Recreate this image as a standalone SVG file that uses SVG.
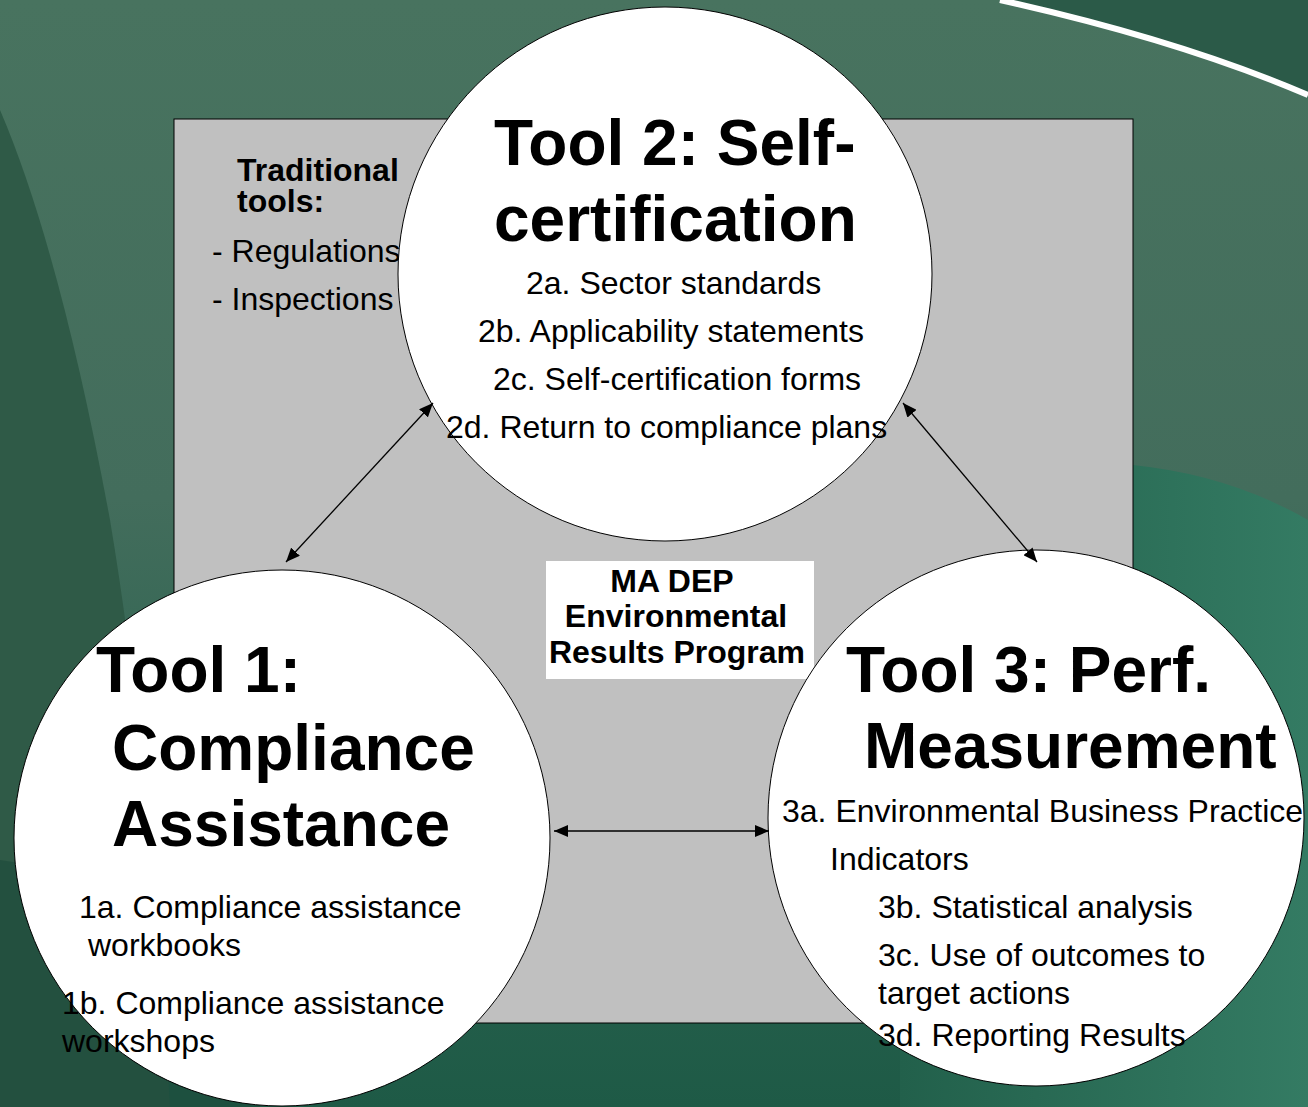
<svg xmlns="http://www.w3.org/2000/svg" width="1308" height="1107" viewBox="0 0 1308 1107">
<defs>
<linearGradient id="bg" x1="0" y1="0" x2="0" y2="1">
<stop offset="0" stop-color="#48735f"/>
<stop offset="0.45" stop-color="#436d5c"/>
<stop offset="0.75" stop-color="#2a6350"/>
<stop offset="1" stop-color="#1e5a46"/>
</linearGradient>
<linearGradient id="br" x1="900" y1="0" x2="1308" y2="0" gradientUnits="userSpaceOnUse">
<stop offset="0" stop-color="#22604b"/>
<stop offset="1" stop-color="#347b63"/>
</linearGradient>
<marker id="ah" viewBox="0 0 14 12" refX="14" refY="6" markerWidth="14" markerHeight="12" markerUnits="userSpaceOnUse" orient="auto-start-reverse">
<path d="M0,0 L14,6 L0,12 z" fill="#000"/>
</marker>
<style>
.circ{fill:#fff;stroke:#000;stroke-width:1}
.t{font-family:"Liberation Sans",Arial,sans-serif;fill:#000}
.big{font-size:64px;font-weight:bold}
.bd{font-size:32px;font-weight:bold}
.rg{font-size:32px}
.conn{stroke:#000;stroke-width:1.3;fill:none;marker-start:url(#ah);marker-end:url(#ah)}
</style>
</defs>
<g id="background">
<rect x="0" y="0" width="1308" height="1107" fill="url(#bg)"/>
<path d="M1133,465 Q1230,475 1308,520 L1308,1107 L900,1107 L900,1023 L1133,1023 Z" fill="url(#br)"/>
<path d="M0,110 Q60,250 110,520 Q150,760 170,1107 L0,1107 Z" fill="#2f5a47"/>
<path d="M0,860 L0,1107 L260,1107 L260,900 Z" fill="#1d4a3a" opacity="0.6"/>
<path d="M1000,0 Q1180,40 1308,95 L1308,0 Z" fill="#2b5a48"/>
<path d="M1000,0 Q1180,40 1308,95" stroke="#ffffff" stroke-width="6" fill="none"/>
</g>
<g id="frame">
<rect x="174" y="119" width="959" height="904" fill="#c0c0c0" stroke="#000" stroke-width="1"/>
</g>
<g id="traditional">
<text class="t bd" x="237" y="181">Traditional</text>
<text class="t bd" x="237" y="212">tools:</text>
<text class="t rg" x="212" y="262">- Regulations</text>
<text class="t rg" x="212" y="310">- Inspections</text>
</g>
<g id="madep">
<rect x="546" y="561" width="268" height="118" fill="#fff"/>
<text class="t bd" x="672" y="592" text-anchor="middle">MA DEP</text>
<text class="t bd" x="676" y="627" text-anchor="middle">Environmental</text>
<text class="t bd" x="677" y="663" text-anchor="middle">Results Program</text>
</g>
<g id="tool2">
<circle class="circ" cx="665" cy="274" r="267"/>
<text class="t big" x="494" y="165">Tool 2: Self-</text>
<text class="t big" x="494" y="241">certification</text>
<text class="t rg" x="526" y="294">2a. Sector standards</text>
<text class="t rg" x="478" y="342">2b. Applicability statements</text>
<text class="t rg" x="493" y="390">2c. Self-certification forms</text>
<text class="t rg" x="446" y="438">2d. Return to compliance plans</text>
</g>
<g id="tool1">
<circle class="circ" cx="282" cy="838" r="268"/>
<text class="t big" x="96" y="692">Tool 1:</text>
<text class="t big" x="112" y="770">Compliance</text>
<text class="t big" x="112" y="846">Assistance</text>
<text class="t rg" x="79" y="918">1a. Compliance assistance</text>
<text class="t rg" x="88" y="956">workbooks</text>
<text class="t rg" x="62" y="1014">1b. Compliance assistance</text>
<text class="t rg" x="62" y="1052">workshops</text>
</g>
<g id="tool3">
<circle class="circ" cx="1036" cy="818" r="268"/>
<text class="t big" x="846" y="692">Tool 3: Perf.</text>
<text class="t big" x="864" y="768">Measurement</text>
<text class="t rg" x="782" y="822">3a. Environmental Business Practice</text>
<text class="t rg" x="830" y="870">Indicators</text>
<text class="t rg" x="878" y="918">3b. Statistical analysis</text>
<text class="t rg" x="878" y="966">3c. Use of outcomes to</text>
<text class="t rg" x="878" y="1004">target actions</text>
<text class="t rg" x="878" y="1046">3d. Reporting Results</text>
</g>
<g id="connectors">
<line class="conn" x1="433" y1="403" x2="286" y2="562"/>
<line class="conn" x1="903" y1="403" x2="1037" y2="562"/>
<line class="conn" x1="554" y1="831" x2="769" y2="831"/>
</g>
</svg>
